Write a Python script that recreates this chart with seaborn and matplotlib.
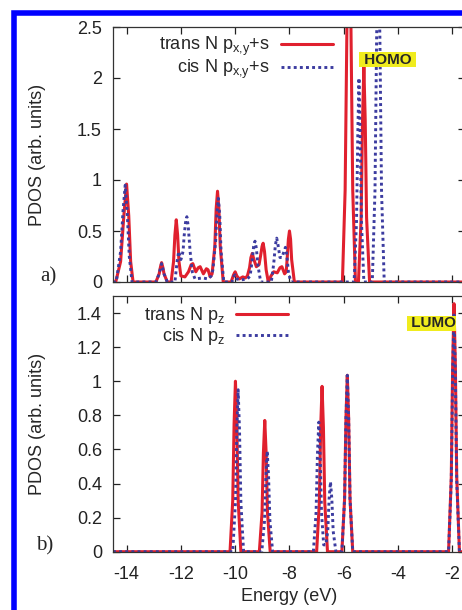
import matplotlib
matplotlib.use('Agg')
import matplotlib.pyplot as plt
import matplotlib.patches as mpatches
import seaborn as sns
import pandas as pd

# PDOS curves: (energy in eV, PDOS in arb. units)
trans_xy = [(-14.5, 0), (-14.4, 0), (-14.22, 0.2), (-14.1, 0.65), (-14.0, 0.96),
            (-13.92, 0.65), (-13.85, 0.2), (-13.76, 0),
            (-12.92, 0), (-12.8, 0.08), (-12.75, 0.15), (-12.71, 0.19), (-12.67, 0.15),
            (-12.62, 0.08), (-12.5, 0),
            (-12.36, 0), (-12.27, 0.2), (-12.22, 0.46), (-12.17, 0.61), (-12.12, 0.46),
            (-12.07, 0.2), (-12.0, 0.06),
            (-11.85, 0.05), (-11.72, 0.1), (-11.62, 0.17), (-11.56, 0.18), (-11.45, 0.1),
            (-11.36, 0.14), (-11.29, 0.15), (-11.17, 0.08), (-11.06, 0.13), (-11.0, 0.12),
            (-10.92, 0.05),
            (-10.85, 0.08), (-10.75, 0.35), (-10.7, 0.72), (-10.65, 0.89), (-10.6, 0.72),
            (-10.55, 0.35), (-10.44, 0),
            (-10.15, 0), (-10.06, 0.07), (-10.0, 0.1), (-9.94, 0.06), (-9.85, 0.03),
            (-9.72, 0.05), (-9.62, 0.04),
            (-9.55, 0.06), (-9.47, 0.14), (-9.42, 0.24), (-9.37, 0.28), (-9.31, 0.22),
            (-9.22, 0.15),
            (-9.12, 0.17), (-9.05, 0.28), (-9.01, 0.35), (-8.97, 0.38), (-8.92, 0.3),
            (-8.86, 0.12), (-8.78, 0),
            (-8.68, 0.06), (-8.58, 0.1), (-8.45, 0.09), (-8.35, 0.14), (-8.28, 0.15),
            (-8.18, 0.08),
            (-8.12, 0.1), (-8.08, 0.25), (-8.04, 0.42), (-8.0, 0.5), (-7.96, 0.42),
            (-7.92, 0.22), (-7.82, 0),
            (-6.05, 0), (-5.95, 0.9), (-5.88, 2.6), (-5.81, 3.5), (-5.74, 2.6),
            (-5.67, 0.9), (-5.57, 0),
            (-5.46, 0), (-5.36, 0.63), (-5.31, 1.58), (-5.26, 2.11), (-5.21, 1.58),
            (-5.16, 0.63), (-5.05, 0),
            (-1.5, 0)]

cis_xy = [(-14.5, 0), (-14.38, 0), (-14.22, 0.3), (-14.13, 0.7), (-14.05, 0.95),
          (-13.98, 0.7), (-13.9, 0.25), (-13.8, 0),
          (-12.92, 0), (-12.8, 0.08), (-12.75, 0.14), (-12.71, 0.18), (-12.67, 0.14),
          (-12.62, 0.08), (-12.5, 0),
          (-12.22, 0), (-12.14, 0.2), (-12.08, 0.3), (-12.0, 0.22), (-11.92, 0.3),
          (-11.88, 0.45), (-11.83, 0.58), (-11.78, 0.64), (-11.73, 0.55), (-11.66, 0.3),
          (-11.58, 0.1), (-11.48, 0.03),
          (-11.2, 0.04), (-11.0, 0.03), (-10.88, 0.06),
          (-10.82, 0.12), (-10.72, 0.4), (-10.67, 0.68), (-10.62, 0.82), (-10.57, 0.66),
          (-10.52, 0.3), (-10.42, 0),
          (-10.12, 0), (-10.04, 0.06), (-10.0, 0.07), (-9.94, 0.03), (-9.8, 0.02),
          (-9.55, 0.03),
          (-9.45, 0.06), (-9.37, 0.22), (-9.32, 0.35), (-9.27, 0.4), (-9.22, 0.33),
          (-9.16, 0.16), (-9.06, 0),
          (-8.75, 0), (-8.67, 0), (-8.58, 0.18), (-8.52, 0.36), (-8.47, 0.43),
          (-8.42, 0.36), (-8.35, 0.24), (-8.28, 0.24),
          (-8.2, 0.3), (-8.15, 0.34), (-8.1, 0.27), (-8.04, 0.1), (-7.95, 0),
          (-5.62, 0), (-5.53, 0.6), (-5.48, 1.5), (-5.44, 2.0), (-5.4, 1.5),
          (-5.35, 0.6), (-5.26, 0),
          (-4.95, 0), (-4.85, 0.9), (-4.79, 2.4), (-4.73, 3.3), (-4.67, 2.4),
          (-4.61, 0.9), (-4.51, 0),
          (-1.5, 0)]

trans_z = [(-14.5, 0),
           (-10.19, 0), (-10.09, 0.3), (-10.04, 0.75), (-9.99, 1.0), (-9.94, 0.75),
           (-9.89, 0.3), (-9.79, 0),
           (-9.11, 0), (-9.01, 0.23), (-8.96, 0.58), (-8.91, 0.77), (-8.86, 0.58),
           (-8.81, 0.23), (-8.71, 0),
           (-7.0, 0), (-6.9, 0.29), (-6.85, 0.73), (-6.8, 0.97), (-6.75, 0.73),
           (-6.7, 0.29), (-6.6, 0),
           (-6.07, 0), (-5.97, 0.31), (-5.92, 0.78), (-5.87, 1.035), (-5.82, 0.78),
           (-5.77, 0.31), (-5.67, 0),
           (-2.14, 0), (-2.04, 0.44), (-1.99, 1.09), (-1.94, 1.455), (-1.89, 1.09),
           (-1.84, 0.44), (-1.74, 0),
           (-1.5, 0)]

cis_z = [(-14.5, 0),
         (-10.09, 0), (-9.99, 0.29), (-9.94, 0.71), (-9.89, 0.95), (-9.84, 0.71),
         (-9.79, 0.29), (-9.69, 0),
         (-9.02, 0), (-8.92, 0.18), (-8.87, 0.44), (-8.82, 0.59), (-8.77, 0.44),
         (-8.72, 0.18), (-8.62, 0),
         (-7.12, 0), (-7.02, 0.23), (-6.97, 0.57), (-6.92, 0.76), (-6.87, 0.57),
         (-6.82, 0.23), (-6.74, 0.04),
         (-6.66, 0.04), (-6.59, 0.12), (-6.54, 0.31), (-6.49, 0.41), (-6.44, 0.31),
         (-6.39, 0.12), (-6.29, 0),
         (-6.07, 0), (-5.97, 0.31), (-5.92, 0.78), (-5.87, 1.035), (-5.82, 0.78),
         (-5.77, 0.31), (-5.67, 0),
         (-2.14, 0), (-2.04, 0.42), (-1.99, 1.05), (-1.94, 1.4), (-1.89, 1.05),
         (-1.84, 0.42), (-1.74, 0),
         (-1.5, 0)]

x_ticks = [-14, -12, -10, -8, -6, -4, -2]
top_yticks = [0, 0.5, 1, 1.5, 2, 2.5]
top_ylabels = ['0', '0.5', '1', '1.5', '2', '2.5']
bot_yticks = [0, 0.2, 0.4, 0.6, 0.8, 1, 1.2, 1.4]
bot_ylabels = ['0', '0.2', '0.4', '0.6', '0.8', '1', '1.2', '1.4']

RED = '#e0202e'
BLUE = '#3c3ca0'
DOTS = (0, (1, 1.1))
FS = 13

sns.set_style('ticks')
plt.rcParams['font.family'] = ['Liberation Sans', 'DejaVu Sans']
plt.rcParams['mathtext.default'] = 'regular'

fig = plt.figure(figsize=(4.62, 6.1), dpi=100)
W, H = 462.0, 610.0
x0, x1 = -14.5, -1.55
ax_wpx = (x1 - x0) * 27.15
ax_top = fig.add_axes([113 / W, 1 - 282 / H, ax_wpx / W, 255 / H])
ax_bot = fig.add_axes([113 / W, 1 - 551.7 / H, ax_wpx / W, 255.7 / H])


def draw(ax, curve1, lab1, curve2, lab2):
    d1 = pd.DataFrame(curve1, columns=['E', 'PDOS'])
    d2 = pd.DataFrame(curve2, columns=['E', 'PDOS'])
    sns.lineplot(data=d1, x='E', y='PDOS', ax=ax, color=RED, lw=2.2,
                 estimator=None, sort=False, label=lab1)
    sns.lineplot(data=d2, x='E', y='PDOS', ax=ax, color=BLUE, lw=2.1,
                 linestyle=DOTS, estimator=None, sort=False, label=lab2)
    ax.set_xlim(x0, x1)
    ax.set_xticks(x_ticks)
    ax.tick_params(direction='in', length=5, width=0.9, top=True, right=True,
                   labelsize=FS, colors='#222222')
    ax.tick_params(axis='y', pad=8)
    ax.tick_params(axis='x', pad=10)
    for s in ax.spines.values():
        s.set_color('#333333')
        s.set_linewidth(0.9)
    ax.set_ylabel('PDOS (arb. units)', fontsize=FS)
    ax.yaxis.set_label_coords((46 - 113) / ax_wpx, 0.5)
    ax.grid(False)
    ax.legend(loc='upper right', markerfirst=False, frameon=False, fontsize=FS,
              handlelength=2.9, handletextpad=0.6, labelspacing=0.0,
              borderpad=0, borderaxespad=0)


draw(ax_top, trans_xy, 'trans N p$_{x{,}y}$+s', cis_xy, 'cis N p$_{x{,}y}$+s')
ax_top.set_ylim(0, 2.5)
ax_top.set_yticks(top_yticks, top_ylabels)
ax_top.set_xticklabels([])
ax_top.set_xlabel('')
ax_top.get_legend().set_bbox_to_anchor(((333 - 113) / ax_wpx, 1 - 8 / 255),
                                       transform=ax_top.transAxes)

draw(ax_bot, trans_z, 'trans N p$_{z}$', cis_z, 'cis N p$_{z}$')
ax_bot.set_ylim(0, 1.5)
ax_bot.set_yticks(bot_yticks, bot_ylabels)
ax_bot.set_xticklabels([str(t) for t in x_ticks])
ax_bot.set_xlabel('Energy (eV)', fontsize=FS, labelpad=4)
ax_bot.get_legend().set_bbox_to_anchor(((288 - 113) / ax_wpx, 1 - 9 / 255.7),
                                       transform=ax_bot.transAxes)

# HOMO / LUMO tags
tag = dict(ha='center', va='center', fontsize=11, weight='bold',
           bbox=dict(boxstyle='square,pad=0.02', fc='#f0ec1e', ec='none'))
ax_top.text(-4.39, 2.18, ' HOMO ', **tag)
ax_bot.text(-2.77, 1.34, ' LUMO', **tag)

# panel letters
fig.text(48 / W, 1 - 277 / H, 'a)', family=['Liberation Serif', 'DejaVu Serif'],
         fontsize=15, ha='center', va='center')
fig.text(45 / W, 1 - 546 / H, 'b)', family=['Liberation Serif', 'DejaVu Serif'],
         fontsize=15, ha='center', va='center')

# blue frame around the figure
frame = mpatches.Rectangle((13.5 / W, -0.2), 1.5, 1 - 13 / H + 0.2,
                           transform=fig.transFigure, fill=False,
                           ec='#0000ff', lw=4.0, clip_on=False)
fig.patches.append(frame)

fig.savefig('out.png', dpi=100)
